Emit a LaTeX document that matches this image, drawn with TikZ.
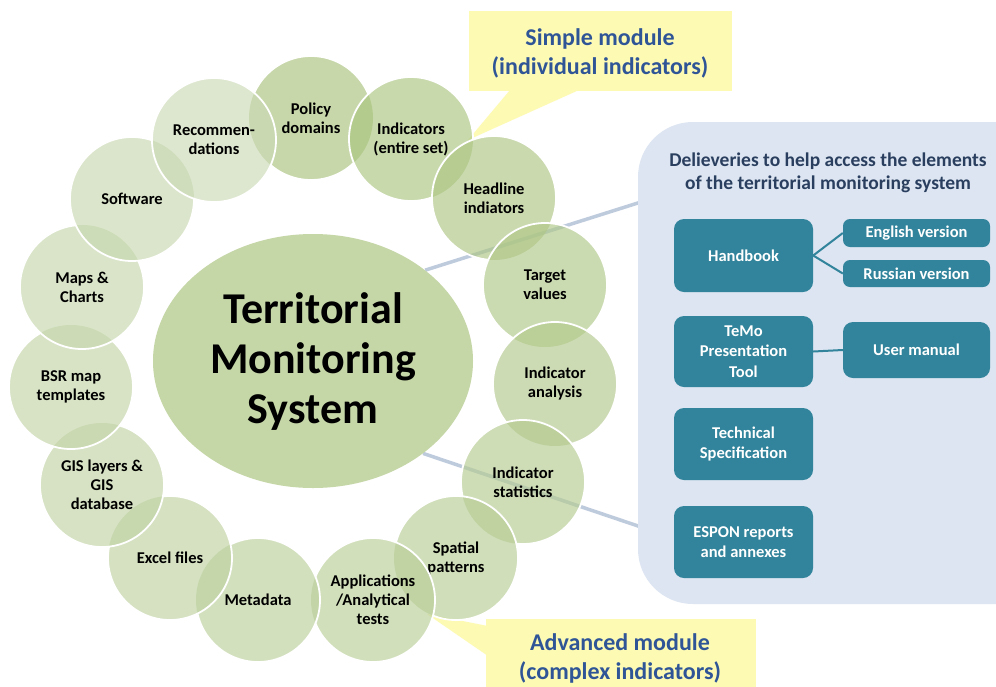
\documentclass[tikz,border=0pt]{standalone}
\usepackage{fontspec}
\setmainfont{Carlito}
\usetikzlibrary{shapes.geometric}
\definecolor{cdark}{HTML}{A9C37C}
\definecolor{clight}{HTML}{CBDAB5}
\definecolor{tmsfill}{HTML}{C5D6A7}
\definecolor{panelfill}{HTML}{DCE5F1}
\definecolor{tealbox}{HTML}{31849B}
\definecolor{callfill}{HTML}{FDFAB4}
\definecolor{calltext}{HTML}{2F5597}
\definecolor{titletext}{HTML}{2A3F5F}
\definecolor{linkgray}{HTML}{B3C2D8}
\tikzset{
  bubble/.style={circle, minimum size=124pt, inner sep=0pt, draw=none,
    fill opacity=0.65, text opacity=1, align=center,
    font=\bfseries\fontsize{16.5}{19}\selectfont},
  rim/.style={draw=white, line width=1.8pt},
  bigbox/.style={rectangle, rounded corners=10pt, fill=tealbox, text=white, align=center,
    minimum width=139pt, inner sep=0pt, font=\bfseries\fontsize{16.5}{20.5}\selectfont},
  smallbox/.style={rectangle, rounded corners=7pt, fill=tealbox, text=white, align=center,
    minimum width=147pt, inner sep=0pt, font=\bfseries\fontsize{16.5}{20}\selectfont},
  calloutbox/.style={rectangle, fill=callfill, inner sep=0pt},
  callouttext/.style={inner sep=0pt, align=center, text=calltext,
    font=\bfseries\fontsize{24}{29}\selectfont},
  link/.style={draw=linkgray, line width=3.5pt, draw opacity=0.85},
  tealline/.style={draw=tealbox, line width=2pt}
}
% rim of circle #1, hidden where circle #2 (and optionally #3) lies over it
\newcommand{\rimunder}[2]{%
  \begin{scope}[even odd rule]
    \clip (-20,-20) rectangle (1020,710) (#2) circle [radius=62pt];
    \draw[rim] (#1) circle [radius=62pt];
  \end{scope}}
\newcommand{\rimundertwo}[3]{%
  \begin{scope}[even odd rule]
    \clip (-20,-20) rectangle (1020,710) (#2) circle [radius=62pt] (#3) circle [radius=62pt];
    \draw[rim] (#1) circle [radius=62pt];
  \end{scope}}
\begin{document}
\begin{tikzpicture}[x=1pt,y=-1pt]
\clip (0,0) rectangle (996,686);
\fill[white] (0,0) rectangle (996,686);

% central ellipse (shape only, text separate)
\node[ellipse, minimum width=320pt, minimum height=254pt, inner sep=0pt] (tms) at (313,361) {};

% connector lines to the panel
\coordinate (l1) at (641,202);
\coordinate (l2) at (641,527);
\draw[link] (tms.39) -- (l1);
\draw[link] (tms.-40) -- (l2);

% panel
\node[rectangle, rounded corners=55pt, fill=panelfill, minimum width=422pt, minimum height=482pt, inner sep=0pt] (panel) at (849,363) {};
\node[inner sep=0pt, align=center, text=titletext, font=\bfseries\fontsize{19.5}{23}\selectfont] (title) at (828,173)
  {Delieveries to help access the elements\\of the territorial monitoring system};

\node[bigbox, minimum height=73pt] (hand) at (743.5,255.5) {Handbook};
\node[smallbox, minimum height=28pt] (eng) at (916.5,233) {English version};
\node[smallbox, minimum height=27pt] (rus) at (916.5,273.5) {Russian version};
\node[bigbox, minimum height=71pt] (temo) at (743.5,351.5) {TeMo\\Presentation\\Tool};
\node[smallbox, minimum height=56pt, rounded corners=10pt] (user) at (916.5,350) {User manual};
\node[bigbox, minimum height=72pt] (tech) at (743.5,444) {Technical\\Specification};
\node[bigbox, minimum height=72pt] (espon) at (743.5,542) {ESPON reports\\and annexes};
\draw[tealline] (hand.east) -- (eng.west);
\draw[tealline] (hand.east) -- (rus.west);
\draw[tealline] (temo.east) -- (user.west);

% callouts
\node[calloutbox, minimum width=263pt, minimum height=80pt] (simple) at (600.5,51) {};
\coordinate (sp1) at (510,90);
\coordinate (sp2) at (579,90);
\coordinate (sptip) at (468,140);
\fill[callfill] (sp1) -- (sp2) -- (sptip) -- cycle;
\node[callouttext] (simpletext) at (600,53.5) {Simple module\\(individual indicators)};

\node[calloutbox, minimum width=270pt, minimum height=81pt] (adv) at (621,659.5) {};
\coordinate (ap1) at (488,626);
\coordinate (ap2) at (488,656);
\coordinate (aptip) at (427,614);
\fill[callfill] (ap1) -- (ap2) -- (aptip) -- cycle;
\node[callouttext] (advtext) at (620,658) {Advanced module\\(complex indicators)};

% central ellipse fill and text
\fill[tmsfill] (tms.center) ellipse [x radius=160pt, y radius=127pt];
\node[inner sep=0pt, align=center, font=\bfseries\fontsize{44}{50}\selectfont] (tmstext) at (313,362)
  {Territorial\\Monitoring\\System};

% bubbles (clockwise from Policy domains, later on top)
\node[bubble, fill=clight!0!cdark] (pol) at (311,118) {Policy\\domains};
\node[bubble, fill=clight!7!cdark] (ind) at (411,139) {Indicators\\(entire set)};
\node[bubble, fill=clight!14!cdark] (head) at (494,198) {Headline\\indiators};
\node[bubble, fill=clight!21!cdark] (targ) at (545,285) {Target\\values};
\node[bubble, fill=clight!28!cdark] (ana) at (555,384) {Indicator\\analysis};
\node[bubble, fill=clight!35!cdark] (stat) at (523,482) {Indicator\\statistics};
\node[bubble, fill=clight!42!cdark] (spat) at (456,558) {Spatial\\patterns};
\node[bubble, fill=clight!50!cdark] (app) at (373,600) {Applications\\/Analytical\\tests};
\node[bubble, fill=clight!57!cdark] (meta) at (258,600) {Metadata};
\node[bubble, fill=clight!64!cdark] (excel) at (170,558) {Excel files};
\node[bubble, fill=clight!71!cdark] (gis) at (102,485) {GIS layers \&\\GIS\\database};
\node[bubble, fill=clight!78!cdark] (bsr) at (71,387) {BSR map\\templates};
\node[bubble, fill=clight!85!cdark] (maps) at (82,287) {Maps \&\\Charts};
\node[bubble, fill=clight!92!cdark] (soft) at (132,199) {Software};
\node[bubble, fill=clight!100!cdark] (rec) at (214,140) {Recommen-\\dations};

% white rims: each visible except where the next bubble lies over it
\rimundertwo{pol.center}{ind.center}{rec.center}
\rimunder{ind.center}{head.center}
\rimunder{head.center}{targ.center}
\rimunder{targ.center}{ana.center}
\rimunder{ana.center}{stat.center}
\rimunder{stat.center}{spat.center}
\rimunder{spat.center}{app.center}
\rimunder{app.center}{meta.center}
\rimunder{meta.center}{excel.center}
\rimunder{excel.center}{gis.center}
\rimunder{gis.center}{bsr.center}
\rimunder{bsr.center}{maps.center}
\rimunder{maps.center}{soft.center}
\rimunder{soft.center}{rec.center}
\draw[rim] (rec.center) circle [radius=62pt];
\end{tikzpicture}
\end{document}
